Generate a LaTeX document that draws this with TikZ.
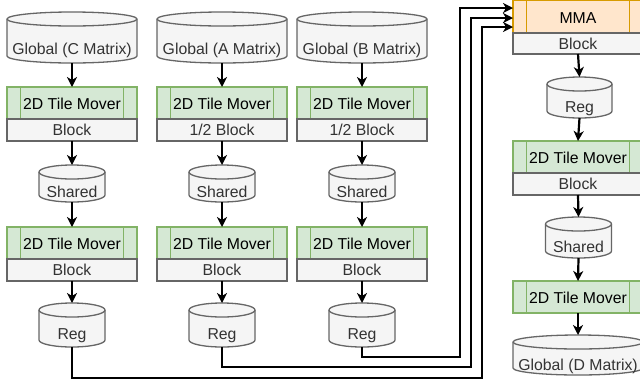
\documentclass[tikz,border=0pt]{standalone}
\usepackage{fontspec}
\setmainfont{Liberation Sans}
\usetikzlibrary{arrows.meta,calc}
\definecolor{gfill}{HTML}{F5F5F5}
\definecolor{gline}{HTML}{666666}
\definecolor{gtext}{HTML}{333333}
\definecolor{grfill}{HTML}{D5E8D4}
\definecolor{grline}{HTML}{82B366}
\definecolor{orfill}{HTML}{FFE6CC}
\definecolor{orline}{HTML}{D79B00}
\tikzset{
  cylbox/.style={draw=none, inner sep=0pt, outer sep=0pt, minimum width=#1},
  cylbody/.style={fill=gfill, draw=gline, line width=1.3bp},
  cyltext/.style={anchor=base, inner sep=0pt, text=gtext},
  mover/.style={draw=grline, fill=grfill, line width=1.3bp, inner sep=0pt, outer sep=0pt,
    minimum width=130bp, minimum height=32bp, text height=13bp, text depth=0bp, text=black},
  mmabox/.style={draw=orline, fill=orfill, line width=1.3bp, inner sep=0pt, outer sep=0pt,
    minimum width=130bp, minimum height=32.2bp, text height=13bp, text depth=0bp, text=black},
  blockbox/.style={draw=gline, fill=gfill, line width=1.3bp, inner sep=0pt, outer sep=0pt,
    minimum width=130bp, minimum height=22bp, text height=11.5bp, text depth=0bp, text=gtext},
  conn/.style={line width=2.2bp, black, -{Stealth[length=10bp, width=10bp, inset=3bp]}},
  wire/.style={line width=2.2bp, black},
}
\newcommand\drawcyl[2]{% name, half width in bp
  \path[cylbody] ([yshift=-7bp]#1.north west) -- ([yshift=7bp]#1.south west)
    arc[start angle=180, end angle=360, x radius=#2bp, y radius=7bp]
    -- ([yshift=-7bp]#1.north east)
    arc[start angle=0, end angle=180, x radius=#2bp, y radius=7bp] -- cycle;
  \draw[gline, line width=1.3bp] ([yshift=-7bp]#1.north west)
    arc[start angle=180, end angle=360, x radius=#2bp, y radius=7bp];
}
\newcommand\moverlines[2]{% name, colour
  \draw[#2, line width=1.3bp] ([xshift=13.5bp]#1.north west) -- ([xshift=13.5bp]#1.south west);
  \draw[#2, line width=1.3bp] ([xshift=-13.5bp]#1.north east) -- ([xshift=-13.5bp]#1.south east);
}
\begin{document}
\begin{tikzpicture}[x=1bp, y=-1bp, font=\fontsize{15.8bp}{19bp}\selectfont]
\useasboundingbox (0,0) rectangle (640,383);
\clip (0,0) rectangle (640,383);
\fill[white] (0,0) rectangle (640,383);

% ---------- left three columns ----------
\foreach \c/\cx/\top/\half in {c/72/Global (C Matrix)/Block, a/222/Global (A Matrix)/1\slash 2 Block, b/362/Global (B Matrix)/1\slash 2 Block}{
  \node[cylbox=130bp, minimum height=51bp] (g\c) at (\cx,37.5) {};
  \drawcyl{g\c}{65}
  \node[cyltext] (gt\c) at (\cx,54.3) {\top};

  \node[mover] (m\c1) at (\cx,103) {2D Tile Mover};
  \moverlines{m\c1}{grline}
  \node[blockbox] (b\c1) at (\cx,130) {\half};

  \node[cylbox=66bp, minimum height=37bp] (s\c) at (\cx,183.5) {};
  \drawcyl{s\c}{33}
  \node[cyltext] (st\c) at (\cx,197) {Shared};

  \node[mover] (m\c2) at (\cx,243) {2D Tile Mover};
  \moverlines{m\c2}{grline}
  \node[blockbox] (b\c2) at (\cx,270) {Block};

  \node[cylbox=66bp, minimum height=44bp] (r\c) at (\cx,325) {};
  \drawcyl{r\c}{33}
  \node[cyltext] (rt\c) at (\cx,339) {Reg};

  \draw[conn] (g\c.south) -- (m\c1.north);
  \draw[conn] (b\c1.south) -- (s\c.north);
  \draw[conn] (s\c.south) -- (m\c2.north);
  \draw[conn] (b\c2.south) -- (r\c.north);
}

% ---------- right column ----------
\node[mmabox] (mma) at (578,16.9) {MMA};
\moverlines{mma}{orline}
\node[blockbox, minimum height=21bp] (bm) at (578,43.5) {Block};

\node[cylbox=65bp, minimum height=41bp] (rr) at (579.5,97.5) {};
\drawcyl{rr}{32.5}
\node[cyltext] (rtr) at (579.5,112) {Reg};

\node[mover] (mr1) at (578,157) {2D Tile Mover};
\moverlines{mr1}{grline}
\node[blockbox] (br1) at (578,184) {Block};

\node[cylbox=66bp, minimum height=41bp] (sr) at (578.5,237.5) {};
\drawcyl{sr}{33}
\node[cyltext] (str) at (578.5,252) {Shared};

\node[mover] (mr2) at (578,297) {2D Tile Mover};
\moverlines{mr2}{grline}

\node[cylbox=130bp, minimum height=40bp] (gd) at (578,355) {};
\drawcyl{gd}{65}
\node[cyltext] (gtd) at (578,370) {Global (D Matrix)};

\draw[conn] (bm.south) -- (rr.north);
\draw[conn] (rr.south) -- (mr1.north);
\draw[conn] (br1.south) -- (sr.north);
\draw[conn] (sr.south) -- (mr2.north);
\draw[conn] (mr2.south) -- (gd.north);

% ---------- Reg -> MMA wires ----------
\coordinate (j3) at (460,357);
\coordinate (j2) at (471,367);
\coordinate (j1) at (482,378);
\draw[conn] (rb.south) |- (j3) |- ([yshift=8.9bp]mma.west);
\draw[conn] (ra.south) |- (j2) |- ([yshift=-1.1bp]mma.west);
\draw[conn] (rc.south) |- (j1) |- ([yshift=-10.1bp]mma.west);
\end{tikzpicture}
\end{document}
